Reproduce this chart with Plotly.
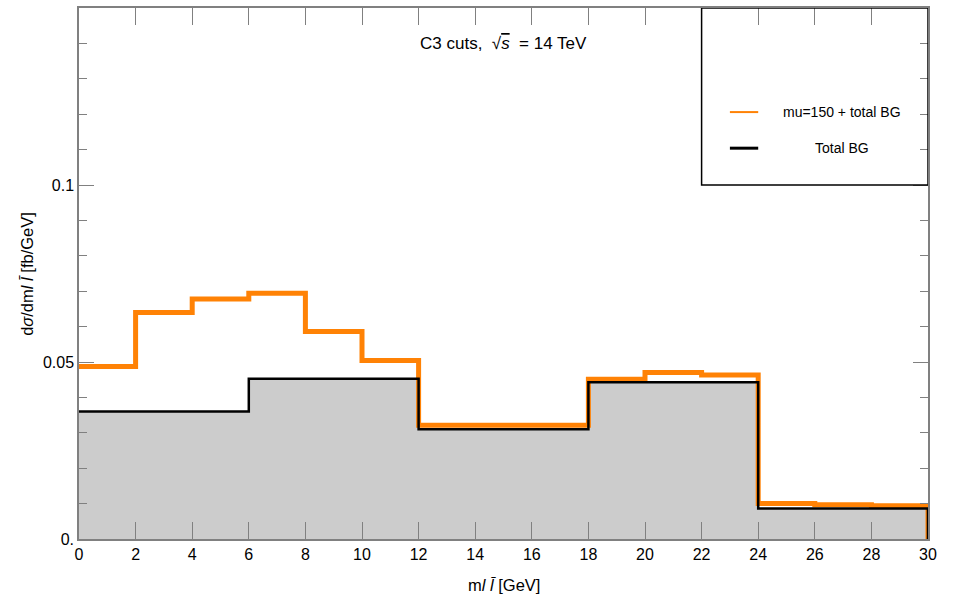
import plotly.graph_objects as go

# Bin edges of the dilepton invariant mass (GeV)
bin_edges = [0, 2, 4, 6, 8, 10, 12, 14, 16, 18, 20, 22, 24, 26, 28, 30]

# Signal (mu=150) + total background, fb/GeV per bin
signal_plus_bg = [0.0487, 0.0640, 0.0678, 0.0694, 0.0586, 0.0504,
                  0.0321, 0.0321, 0.0321, 0.0451, 0.0470, 0.0463,
                  0.0100, 0.0097, 0.0094]

# Total background, fb/GeV per bin
total_bg = [0.0360, 0.0360, 0.0360, 0.0453, 0.0453, 0.0453,
            0.0310, 0.0310, 0.0310, 0.0443, 0.0443, 0.0443,
            0.0086, 0.0086, 0.0086]

x_ticks = list(range(0, 31, 2))
y_tickvals = [0, 0.05, 0.1]
y_ticktext = ["0.", "0.05", "0.1"]

legend_labels = ["mu=150 + total BG", "Total BG"]
ORANGE = "#FF8205"
FONT = "Liberation Sans, Arial, sans-serif"


def step_xy(edges, vals, close_left=True):
    """Step outline (hv) that drops to the x axis at the right edge."""
    xs = list(edges[:-1]) + [edges[-1], edges[-1]]
    ys = list(vals) + [vals[-1], 0]
    if close_left:
        xs = [edges[0]] + xs
        ys = [0] + ys
    return xs, ys


fx, fy = step_xy(bin_edges, total_bg)
bx, by = step_xy(bin_edges, total_bg, close_left=False)
sx, sy = step_xy(bin_edges, signal_plus_bg, close_left=False)

fig = go.Figure()

# Grey filled background histogram
fig.add_trace(go.Scatter(x=fx, y=fy, mode="lines", line=dict(width=0, shape="hv"),
                         fill="tozeroy", fillcolor="#CCCCCC", showlegend=False,
                         hoverinfo="skip"))
# Signal + background outline
fig.add_trace(go.Scatter(x=sx, y=sy, mode="lines", name=legend_labels[0],
                         line=dict(color=ORANGE, width=5, shape="hv"),
                         showlegend=False))
# Background outline
fig.add_trace(go.Scatter(x=bx, y=by, mode="lines", name=legend_labels[1],
                         line=dict(color="black", width=2.5, shape="hv"),
                         showlegend=False))

# Legend box in the upper right corner
fig.add_shape(type="rect", x0=22, x1=30, y0=0.1, y1=0.15,
              line=dict(color="black", width=1.5), fillcolor="rgba(0,0,0,0)")
legend_y = [0.1206, 0.1104]
legend_colors = [ORANGE, "black"]
legend_widths = [2, 3]
for lab, ly, col, lw in zip(legend_labels, legend_y, legend_colors, legend_widths):
    fig.add_shape(type="line", x0=23.0, x1=24.0, y0=ly, y1=ly,
                  line=dict(color=col, width=lw))
    fig.add_annotation(x=26.95, y=ly, text=lab, showarrow=False,
                       xanchor="center", yanchor="middle",
                       font=dict(family=FONT, size=14, color="black"))

# Plot label
fig.add_annotation(x=0.5, y=0.140, xref="paper", yref="y",
                   text="C3 cuts,  √<span style='text-decoration:overline'><i>s</i></span>  = 14 TeV",
                   showarrow=False, xanchor="center", yanchor="middle",
                   font=dict(family=FONT, size=17, color="black"))

# Axis titles
fig.add_annotation(x=0.5, y=-0.087, xref="paper", yref="paper",
                   text="m<i>l</i> <i>l\u0304</i> [GeV]", showarrow=False,
                   xanchor="center", yanchor="middle",
                   font=dict(family=FONT, size=16.5, color="black"))
fig.add_annotation(x=-0.062, y=0.5, xref="paper", yref="paper",
                   text="d<i>σ</i>/dm<i>l</i> <i>l\u0304</i> [fb/GeV]", showarrow=False,
                   textangle=-90, xanchor="center", yanchor="middle",
                   font=dict(family=FONT, size=16.5, color="black"))

axis_col = "#808080"
fig.update_xaxes(range=[0, 30], tickvals=x_ticks, ticks="inside", ticklen=17,
                 tickcolor=axis_col, tickwidth=1, showline=True, linecolor=axis_col,
                 linewidth=1.5, mirror="ticks", showgrid=False, zeroline=False,
                 tickfont=dict(family=FONT, size=16, color="black"))
fig.update_yaxes(range=[0, 0.15], tickvals=y_tickvals, ticktext=y_ticktext,
                 ticks="inside", ticklen=15, tickcolor=axis_col, tickwidth=1,
                 minor=dict(dtick=0.01, tick0=0, ticks="inside", ticklen=8,
                            tickcolor=axis_col, tickwidth=1, showgrid=False),
                 showline=True, linecolor=axis_col, linewidth=1.5, mirror="ticks",
                 showgrid=False, zeroline=False,
                 tickfont=dict(family=FONT, size=16, color="black"))

fig.update_layout(width=953, height=597,
                  margin=dict(l=79, r=25, t=6, b=58),
                  paper_bgcolor="white", plot_bgcolor="white",
                  showlegend=False)

fig.write_html("out.html")
